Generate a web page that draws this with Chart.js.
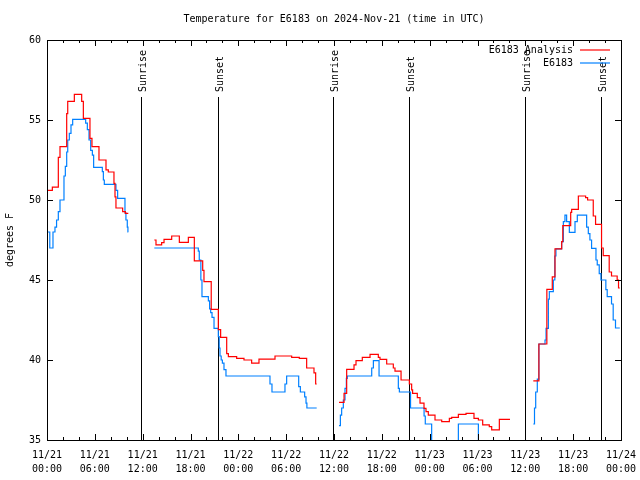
<!DOCTYPE html>
<html lang="en">
<head>
<meta charset="UTF-8">
<title>Temperature for E6183</title>
<script src="https://cdn.jsdelivr.net/npm/chart.js"></script>
<style>
  html, body { margin: 0; padding: 0; background: #ffffff; }
  #chart { display: block; }
</style>
</head>
<body>
<canvas id="chart" width="640" height="480"></canvas>
<script>
const chartTitle = "Temperature for E6183 on 2024-Nov-21 (time in UTC)";
const yAxisTitle = "degrees F";

// x is hours since 11/21 00:00 UTC
const xTickDates = ["11/21", "11/21", "11/21", "11/21", "11/22", "11/22", "11/22", "11/22", "11/23", "11/23", "11/23", "11/23", "11/24"];
const xTickTimes = ["00:00", "06:00", "12:00", "18:00", "00:00", "06:00", "12:00", "18:00", "00:00", "06:00", "12:00", "18:00", "00:00"];
const yTicks = [35, 40, 45, 50, 55, 60];

const eventHours = [11.8, 21.45, 35.9, 45.4, 60.0, 69.5];
const eventLabels = ["Sunrise", "Sunset", "Sunrise", "Sunset", "Sunrise", "Sunset"];

// E6183 Analysis (null = gap)
const analysisHours = [
  0, 0.67, 1.42, 1.63, 2.47, 2.6, 3.43, 4.35, 4.56, 5.39, 5.64, 6.52, 7.4, 7.69, 8.4, 8.53, 8.65, 9.49, 9.83, 10.2,
  11,
  13.46, 13.67, 14.38, 14.68, 15.64, 16.6, 17.73, 18.48, 19.53, 19.69, 20.6, 21.49, 21.78, 22.54, 22.75, 23.79, 24.71, 25.67, 26.59, 28.6, 30.69, 31.65, 32.57, 33.49, 33.7, 33.83,
  35,
  36.63, 37.26, 37.59, 38.51, 38.76, 39.55, 40.52, 41.56, 41.77, 42.61, 43.44, 43.65, 44.41, 45.45, 45.74, 45.86, 46.45, 46.79, 47.29, 47.54, 47.83, 48.67, 49.51, 50.47, 50.76, 51.6, 52.56, 53.56, 54.11, 54.65, 55.48, 55.78, 56.74, 58.08,
  59,
  61.0, 61.7, 62.7, 63.38, 63.72, 64.56, 64.7, 65.69, 65.81, 66.65, 67.56, 67.81, 68.52, 68.81, 69.56, 69.77, 70.52, 70.81, 71.52, 71.69, 71.85
];
const analysisTemps = [
  50.6, 50.8, 52.67, 53.33, 55.4, 56.17, 56.6, 56.17, 55.1, 53.85, 53.33, 52.5, 51.88, 51.75, 51.04, 50.2, 49.5, 49.27, 49.17, 49.17,
  null,
  47.5, 47.19, 47.33, 47.54, 47.75, 47.35, 47.67, 46.19, 45.6, 44.9, 43.17, 41.9, 41.42, 40.4, 40.21, 40.1, 40.0, 39.8, 40.06, 40.25, 40.17, 40.1, 39.5, 39.2, 38.5, 38.5,
  null,
  37.35, 37.92, 39.42, 39.7, 39.96, 40.17, 40.35, 40.17, 40.04, 39.75, 39.5, 39.31, 38.75, 38.5, 38.13, 37.92, 37.65, 37.3, 36.98, 36.77, 36.56, 36.25, 36.15, 36.35, 36.42, 36.6, 36.67, 36.35, 36.25, 35.94, 35.83, 35.63, 36.29, 36.29,
  null,
  38.7, 41.0, 44.42, 45.2, 46.94, 47.4, 48.4, 49.23, 49.42, 50.25, 50.15, 50.0, 49.0, 48.48, 47.0, 46.52, 45.5, 45.25, 45.0, 44.5, 44.5
];

// E6183 observations (null = gap)
const obsHours = [
  0, 0.35, 0.75, 1.0, 1.2, 1.42, 1.63, 2.13, 2.3, 2.47, 2.6, 2.8, 3.01, 3.22, 4.85, 5.06, 5.27, 5.48, 5.69, 5.85, 6.94, 7.07, 7.19, 8.65, 8.86, 9.78, 9.9, 10.07, 10.15, 10.2,
  11,
  13.46, 18.98, 19.1, 19.3, 19.44, 20.24, 20.4, 20.53, 20.7, 20.95, 21.49, 21.6, 21.7, 21.85, 22.0, 22.2, 22.45, 27.97, 28.22, 29.85, 30.06, 31.57, 31.78, 32.32, 32.49, 32.6, 33.83,
  35,
  36.63, 36.8, 36.96, 37.17, 37.38, 37.55, 37.67, 40.73, 40.94, 41.65, 44.07, 44.2, 45.6, 47.3, 47.45, 48.25, 51.6, 54.11, 58.08,
  59,
  61.0, 61.15, 61.3, 61.5, 61.7, 62.47, 62.6, 62.89, 63.01, 63.51, 63.7, 63.84, 64.56, 64.77, 64.97, 65.18, 65.52, 66.23, 66.52, 67.69, 67.9, 68.1, 68.31, 68.86, 69.02, 69.27, 69.48, 70.1, 70.27, 70.81, 71.02, 71.31, 71.85
];
const obsTemps = [
  48.0, 47.0, 48.0, 48.3, 48.75, 49.27, 50.0, 51.5, 52.1, 53.0, 53.75, 54.17, 54.7, 55.04, 54.8, 54.4, 53.75, 53.1, 52.8, 52.04, 51.77, 51.25, 50.98, 50.6, 50.1, 49.2, 48.75, 48.3, 48.0, 48.0,
  null,
  47.0, 46.8, 46.25, 45.0, 43.96, 43.7, 43.2, 42.96, 42.67, 41.98, 41.46, 40.75, 40.25, 40.0, 39.8, 39.4, 39.0, 38.5, 38.0, 38.5, 39.0, 38.33, 38.0, 37.7, 37.3, 37.0, 37.0,
  null,
  35.9, 36.56, 37.0, 37.5, 38.23, 38.85, 39.0, 39.5, 39.96, 39.0, 38.23, 38.0, 37.0, 36.5, 36.0, 34.5, 36.0, 34.5, 34.5,
  null,
  36.0, 37.0, 38.0, 38.8, 41.0, 41.25, 41.98, 43.8, 44.27, 45.0, 46.5, 46.94, 47.4, 48.65, 49.06, 48.65, 47.98, 48.65, 49.06, 48.3, 47.9, 47.5, 46.98, 46.25, 45.94, 45.4, 45.0, 44.4, 43.96, 43.5, 42.5, 42.0, 42.0
];

const FONT = '"DejaVu Sans Mono", monospace';
const RED = '#ff0000';
const BLUE = '#0080ff';

function toPoints(hours, temps) {
  return hours.map((h, i) => ({ x: h, y: temps[i] }));
}

// gnuplot style frame, mirrored ticks, events, title and legend
const gnuplotDecor = {
  id: 'gnuplotDecor',
  beforeDatasetsDraw(chart) {
    const { ctx, chartArea: a, scales: { x } } = chart;
    ctx.save();
    ctx.strokeStyle = '#000';
    ctx.lineWidth = 1;
    eventHours.forEach(h => {
      const px = Math.round(x.getPixelForValue(h)) + 0.5;
      ctx.beginPath();
      ctx.moveTo(px, a.top + 57);
      ctx.lineTo(px, a.bottom);
      ctx.stroke();
    });
    ctx.restore();
  },
  afterDatasetsDraw(chart) {
    const { ctx, chartArea: a, scales: { x, y } } = chart;
    ctx.save();
    ctx.strokeStyle = '#000';
    ctx.lineWidth = 1;
    ctx.strokeRect(a.left + 0.5, a.top + 0.5, a.right - a.left, a.bottom - a.top);

    ctx.beginPath();
    for (let h = x.min; h <= x.max; h += 2) {
      const px = Math.round(x.getPixelForValue(h)) + 0.5;
      const len = h % 6 === 0 ? 6 : 3;
      ctx.moveTo(px, a.bottom); ctx.lineTo(px, a.bottom - len);
      ctx.moveTo(px, a.top); ctx.lineTo(px, a.top + len);
    }
    yTicks.forEach(v => {
      const py = Math.round(y.getPixelForValue(v)) + 0.5;
      ctx.moveTo(a.left, py); ctx.lineTo(a.left + 6, py);
      ctx.moveTo(a.right, py); ctx.lineTo(a.right - 6, py);
    });
    ctx.stroke();

    ctx.fillStyle = '#000';
    ctx.font = '10px ' + FONT;

    // title
    ctx.textAlign = 'center';
    ctx.textBaseline = 'middle';
    ctx.fillText(chartTitle, (a.left + a.right) / 2, 19);

    // event labels
    eventHours.forEach((h, i) => {
      const px = x.getPixelForValue(h);
      ctx.save();
      ctx.translate(px + 2, a.top + 52);
      ctx.rotate(-Math.PI / 2);
      ctx.textAlign = 'left';
      ctx.textBaseline = 'middle';
      ctx.fillText(eventLabels[i], 0, 0);
      ctx.restore();
    });

    // legend
    chart.data.datasets.forEach((ds, i) => {
      const ly = a.top + 10 + i * 13;
      ctx.textAlign = 'right';
      ctx.textBaseline = 'middle';
      ctx.fillStyle = '#000';
      ctx.fillText(ds.label, a.right - 48, ly);
      ctx.strokeStyle = ds.borderColor;
      ctx.lineWidth = 1.2;
      ctx.beginPath();
      ctx.moveTo(a.right - 41, ly);
      ctx.lineTo(a.right - 11, ly);
      ctx.stroke();
    });
    ctx.restore();
  }
};

new Chart(document.getElementById('chart'), {
  type: 'line',
  data: {
    datasets: [
      {
        label: 'E6183 Analysis',
        data: toPoints(analysisHours, analysisTemps),
        borderColor: RED,
        borderWidth: 1.2,
        stepped: true,
        pointRadius: 0,
        spanGaps: false
      },
      {
        label: 'E6183',
        data: toPoints(obsHours, obsTemps),
        borderColor: BLUE,
        borderWidth: 1.2,
        stepped: true,
        pointRadius: 0,
        spanGaps: false
      }
    ]
  },
  options: {
    responsive: false,
    animation: false,
    layout: { padding: { top: 40, right: 19, left: 0, bottom: 0 } },
    plugins: {
      legend: { display: false },
      title: { display: false },
      tooltip: { enabled: false }
    },
    scales: {
      x: {
        type: 'linear',
        min: 0,
        max: 72,
        afterFit: s => { s.height = 40; s.paddingLeft = 0; s.paddingRight = 0; },
        afterBuildTicks: s => { s.ticks = xTickTimes.map((t, i) => ({ value: i * 6 })); },
        grid: { display: false, drawTicks: false },
        border: { display: false },
        ticks: {
          padding: 8,
          color: '#000',
          maxRotation: 0,
          autoSkip: false,
          font: { family: FONT, size: 10, lineHeight: 1.4 },
          callback: v => [xTickDates[v / 6], xTickTimes[v / 6]]
        }
      },
      y: {
        min: 35,
        max: 60,
        afterFit: s => { s.width = 47; s.paddingTop = 0; s.paddingBottom = 0; },
        afterBuildTicks: s => { s.ticks = yTicks.map(v => ({ value: v })); },
        grid: { display: false, drawTicks: false },
        border: { display: false },
        title: {
          display: true,
          text: yAxisTitle,
          color: '#000',
          font: { family: FONT, size: 10 },
          padding: { top: 4, bottom: 4 }
        },
        ticks: {
          padding: 6,
          color: '#000',
          font: { family: FONT, size: 10 }
        }
      }
    }
  },
  plugins: [gnuplotDecor]
});
</script>
</body>
</html>
